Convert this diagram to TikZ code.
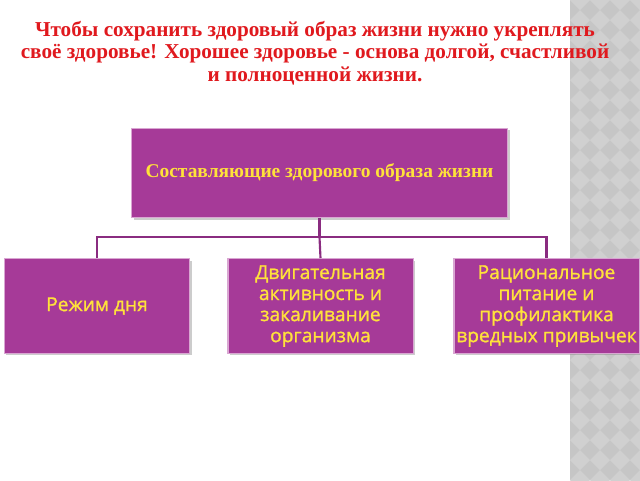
\documentclass[tikz,border=0pt]{standalone}
\usepackage{fontspec}
\setmainfont{Liberation Serif}
\newfontfamily\boxfont[FakeBold=1.2]{Open Sans}
\definecolor{titlered}{HTML}{E0191E}
\definecolor{boxfill}{HTML}{A63A98}
\definecolor{boxedge}{HTML}{D9A6D2}
\definecolor{boxtext}{HTML}{FFE23A}
\definecolor{linecol}{HTML}{8A2C80}
\definecolor{stripbg}{HTML}{C6C6C6}
\definecolor{stripdia}{HTML}{D0D0D0}
\usetikzlibrary{shadows}
\tikzset{
  topbox/.style={draw=boxedge, line width=1.2pt, fill=boxfill, text=boxtext,
    font=\bfseries\fontsize{14.6}{17}\selectfont, align=center,
    minimum width=282pt, minimum height=67pt, inner sep=0pt,
    drop shadow={shadow xshift=1.5pt, shadow yshift=-1.5pt, opacity=0.4}},
  subbox/.style={draw=boxedge, line width=1pt, fill=boxfill, text=boxtext,
    font=\boxfont\fontsize{14.4}{15.8}\selectfont, align=center,
    minimum width=139pt, minimum height=71pt, inner sep=0pt,
    drop shadow={shadow xshift=1.5pt, shadow yshift=-1.5pt, opacity=0.4}},
  conn/.style={draw=linecol, line width=1.6pt},
  titletext/.style={text=titlered, font=\bfseries\fontsize{15.9}{16.9}\selectfont, align=center}
}
\begin{document}
\begin{tikzpicture}[x=0.75pt,y=-0.75pt]
\useasboundingbox (0,0) rectangle (640,480);
\fill[white] (0,0) rectangle (640,480);
% gray decorative strip
\fill[stripbg] (570,0) rectangle (640,480);
\begin{scope}
\clip (570,0) rectangle (640,480);
\foreach \i in {0,...,4}{
  \foreach \j in {0,...,25}{
    \fill[stripdia] ({570+\i*20},{\j*20}) -- ++(10,-10) -- ++(10,10) -- ++(-10,10) -- cycle;
  }
}
\end{scope}
% title
\node[titletext] (title) at (315,53) {Чтобы сохранить здоровый образ жизни нужно укреплять\\своё здоровье! Хорошее здоровье - основа долгой, счастливой\\и полноценной жизни.};
% boxes
\node[topbox] (top) at (319.5,173) {Составляющие здорового образа жизни};
\node[subbox] (b1) at (97,306) {Режим дня};
\node[subbox] (b2) at (320.5,306) {Двигательная\\активность и\\закаливание\\организма};
\node[subbox] (b3) at (546.5,306) {Рациональное\\питание и\\профилактика\\вредных привычек};
% connectors
\coordinate (hub) at (top.south |- 0,237);
\draw[conn] (top.south) -- (hub);
\draw[conn] (b1.north) |- (hub) -| (b3.north);
\draw[conn] (hub) -- (b2.north);
\end{tikzpicture}
\end{document}
